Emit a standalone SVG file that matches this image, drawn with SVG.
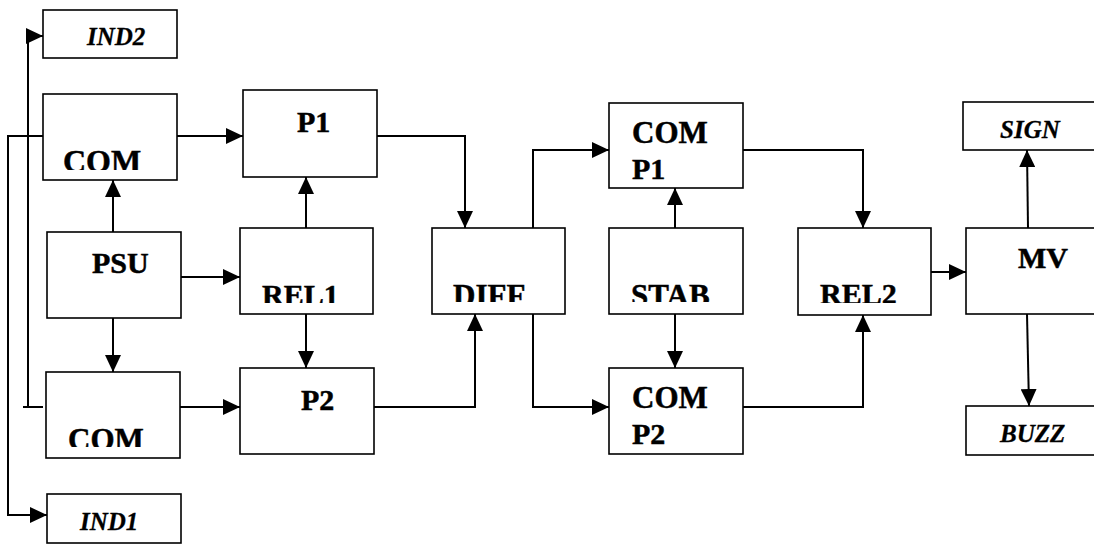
<svg xmlns="http://www.w3.org/2000/svg" width="1094" height="545" viewBox="0 0 1094 545">
<style>
.box{fill:#fff;stroke:#000;stroke-width:1.6}
.lbl{font-family:"Liberation Serif","Times New Roman",serif;font-weight:bold;font-size:30px;fill:#000;stroke:#000;stroke-width:0.5}
.ind{font-family:"Liberation Serif","Times New Roman",serif;font-weight:bold;font-style:italic;font-size:25px;fill:#000;stroke:#000;stroke-width:0.3}
.c{fill:none;stroke:#000;stroke-width:2}
</style>
<defs>
<marker id="ah" markerUnits="userSpaceOnUse" markerWidth="17" markerHeight="16" refX="17" refY="8" orient="auto">
<path d="M0,0 L17,8 L0,16 z" fill="#000"/>
</marker>
<clipPath id="cCom1"><rect x="43" y="94" width="134" height="76"/></clipPath>
<clipPath id="cRel1"><rect x="240" y="228" width="133" height="75"/></clipPath>
<clipPath id="cCom2"><rect x="46" y="372" width="134" height="75"/></clipPath>
<clipPath id="cDiff"><rect x="432" y="228" width="133" height="74"/></clipPath>
<clipPath id="cStab"><rect x="609" y="228" width="134" height="74"/></clipPath>
<clipPath id="cRel2"><rect x="798" y="228" width="133" height="75"/></clipPath>
</defs>
<rect width="1094" height="545" fill="#fff"/>
<g id="connectors">
<path class="c" d="M23,407 H43"/>
<path class="c" d="M28,407 V36 H43" marker-end="url(#ah)"/>
<path class="c" d="M43,136 H8 V515 H47" marker-end="url(#ah)"/>
<path class="c" d="M113,232 V180" marker-end="url(#ah)"/>
<path class="c" d="M181,277 H240" marker-end="url(#ah)"/>
<path class="c" d="M113,316 V372" marker-end="url(#ah)"/>
<path class="c" d="M177,136 H243" marker-end="url(#ah)"/>
<path class="c" d="M177,407 H240" marker-end="url(#ah)"/>
<path class="c" d="M306,228 V177" marker-end="url(#ah)"/>
<path class="c" d="M306,314 V368" marker-end="url(#ah)"/>
<path class="c" d="M373,136 H465 V228" marker-end="url(#ah)"/>
<path class="c" d="M374,407 H475 V314" marker-end="url(#ah)"/>
<path class="c" d="M533,228 V150 H609" marker-end="url(#ah)"/>
<path class="c" d="M533,314 V407 H609" marker-end="url(#ah)"/>
<path class="c" d="M675,228 V188" marker-end="url(#ah)"/>
<path class="c" d="M675,314 V368" marker-end="url(#ah)"/>
<path class="c" d="M743,150 H863 V228" marker-end="url(#ah)"/>
<path class="c" d="M743,407 H863 V315" marker-end="url(#ah)"/>
<path class="c" d="M931,272 H966" marker-end="url(#ah)"/>
<path class="c" d="M1028,228 L1027,150" marker-end="url(#ah)"/>
<path class="c" d="M1027,314 L1029,406" marker-end="url(#ah)"/>
</g>
<g id="ind2"><rect class="box" x="43" y="10" width="134" height="48"/><text class="ind" x="87" y="45">IND2</text></g>
<g id="com1"><rect class="box" x="43" y="94" width="134" height="86"/><text class="lbl" x="63" y="172" style="font-size:32px" clip-path="url(#cCom1)">COM</text></g>
<g id="p1"><rect class="box" x="243" y="90" width="134" height="87"/><text class="lbl" x="297" y="132">P1</text></g>
<g id="psu"><rect class="box" x="47" y="232" width="134" height="86"/><text class="lbl" x="92" y="273">PSU</text></g>
<g id="rel1"><rect class="box" x="240" y="228" width="133" height="86"/><text class="lbl" x="262" y="305" clip-path="url(#cRel1)">REL1</text></g>
<g id="com2"><rect class="box" x="46" y="372" width="134" height="86"/><text class="lbl" x="68" y="450" style="font-size:31px" clip-path="url(#cCom2)">COM</text></g>
<g id="p2"><rect class="box" x="240" y="368" width="134" height="86"/><text class="lbl" x="301" y="410">P2</text></g>
<g id="ind1"><rect class="box" x="47" y="494" width="134" height="49"/><text class="ind" x="80" y="530">IND1</text></g>
<g id="diff"><rect class="box" x="432" y="228" width="133" height="86"/><text class="lbl" x="453" y="306" style="font-size:31px" clip-path="url(#cDiff)">DIFF</text></g>
<g id="comp1"><rect class="box" x="609" y="103" width="134" height="85"/><text class="lbl" x="632" y="143" style="font-size:31px">COM</text><text class="lbl" x="632" y="179">P1</text></g>
<g id="stab"><rect class="box" x="609" y="228" width="134" height="86"/><text class="lbl" x="631" y="306" style="font-size:31px" clip-path="url(#cStab)">STAB</text></g>
<g id="comp2"><rect class="box" x="609" y="368" width="134" height="86"/><text class="lbl" x="632" y="408" style="font-size:31px">COM</text><text class="lbl" x="632" y="444">P2</text></g>
<g id="rel2"><rect class="box" x="798" y="228" width="133" height="87"/><text class="lbl" x="820" y="304" clip-path="url(#cRel2)">REL2</text></g>
<g id="mv"><rect class="box" x="966" y="228" width="140" height="86"/><text class="lbl" x="1018" y="268">MV</text></g>
<g id="sign"><rect class="box" x="963" y="102" width="140" height="48"/><text class="ind" x="1000" y="138">SIGN</text></g>
<g id="buzz"><rect class="box" x="966" y="406" width="140" height="49"/><text class="ind" x="1000" y="442">BUZZ</text></g>
</svg>
